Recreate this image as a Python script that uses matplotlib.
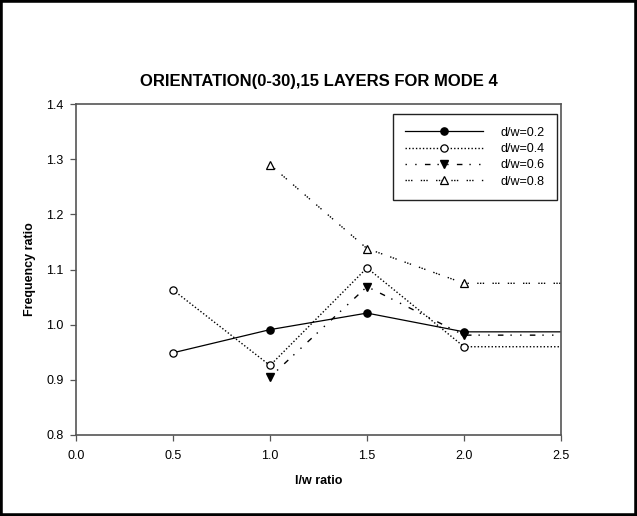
import matplotlib.pyplot as plt

plt.rcParams['font.family'] = ['Liberation Sans', 'DejaVu Sans']

# data (last point at 2.5 is the flat run-out of each line)
x02 = [0.5, 1.0, 1.5, 2.0, 2.5]
y02 = [0.949, 0.991, 1.021, 0.987, 0.987]
x04 = [0.5, 1.0, 1.5, 2.0, 2.5]
y04 = [1.063, 0.926, 1.103, 0.960, 0.960]
x06 = [1.0, 1.5, 2.0, 2.5]
y06 = [0.905, 1.069, 0.981, 0.981]
x08 = [1.0, 1.5, 2.0, 2.5]
y08 = [1.290, 1.138, 1.075, 1.075]
labels = ['d/w=0.2', 'd/w=0.4', 'd/w=0.6', 'd/w=0.8']

fig = plt.figure(figsize=(6.37, 5.16), dpi=100)
ax = fig.add_axes([0.1193, 0.157, 0.7614, 0.6414])

ms = 5.2
mt = 6.0
ax.plot(x02, y02, color='black', lw=0.9, marker='o', ms=ms, mfc='black',
        markevery=[1, 2, 3], label=labels[0])
ax.plot(x02[:1], y02[:1], ls='none', marker='o', ms=ms, mfc='white',
        mec='black', mew=0.9)  # first point is drawn open in the original
ax.plot(x04, y04, color='black', lw=1.0, ls=(0, (1, 1.5)), marker='o', ms=ms,
        mfc='white', mec='black', mew=0.9, markevery=[0, 1, 2, 3], label=labels[1])
ax.plot(x06, y06, color='black', lw=1.0, ls=(0, (1, 6, 1, 6, 4, 5)), marker='v',
        ms=mt, mfc='black', mec='black', markevery=[0, 1, 2], label=labels[2])
ax.plot(x08, y08, color='black', lw=1.0, ls=(0, (1, 1, 1, 1, 1, 6)), marker='^',
        ms=mt, mfc='white', mec='black', mew=0.9, markevery=[0, 1, 2], label=labels[3])

ax.set_xlim(0, 2.5)
ax.set_ylim(0.8, 1.4)
ax.set_xticks([0.0, 0.5, 1.0, 1.5, 2.0, 2.5])
ax.set_yticks([0.8, 0.9, 1.0, 1.1, 1.2, 1.3, 1.4])
ax.xaxis.set_major_formatter(plt.FormatStrFormatter('%.1f'))
ax.yaxis.set_major_formatter(plt.FormatStrFormatter('%.1f'))
ax.tick_params(direction='out', length=4, width=0.9, color='#555555', labelsize=9)
ax.tick_params(axis='x', pad=7)
ax.tick_params(axis='y', pad=5)
for s in ax.spines.values():
    s.set_color('#555555')
    s.set_linewidth(1.2)

ax.set_xlabel('l/w ratio', fontsize=9, fontweight='bold', labelpad=9)
ax.set_ylabel('Frequency ratio', fontsize=9, fontweight='bold', labelpad=7)
ax.set_title('ORIENTATION(0-30),15 LAYERS FOR MODE 4', fontsize=12,
             fontweight='bold', pad=13)

leg = ax.legend(loc='upper right', bbox_to_anchor=(0.9918, 0.9698), borderaxespad=0,
                fontsize=9, handlelength=6.2, handletextpad=1.4, labelspacing=0.35,
                borderpad=1.0, fancybox=False, framealpha=1, edgecolor='#222222')
leg.get_frame().set_linewidth(1.0)

fig.add_artist(plt.Rectangle((0, 0), 1, 1, transform=fig.transFigure,
                             fill=False, lw=4, ec='black'))

fig.savefig('out.png', dpi=100)
